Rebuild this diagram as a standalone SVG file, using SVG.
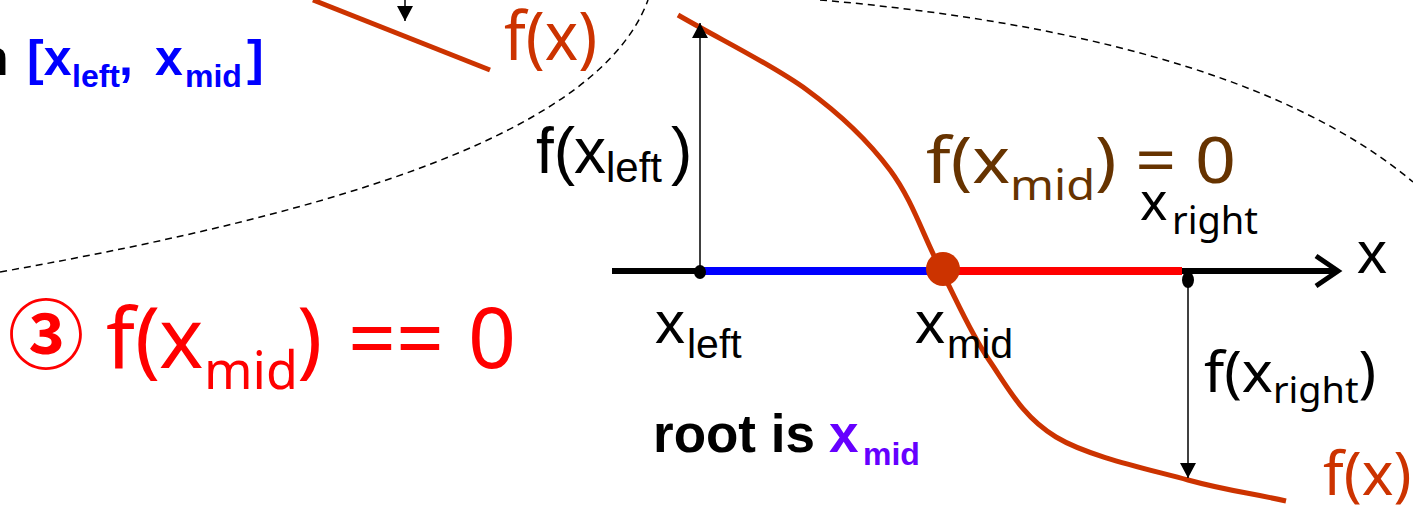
<svg xmlns="http://www.w3.org/2000/svg" width="1413" height="507" viewBox="0 0 1413 507">
<defs>
<marker id="ah" markerUnits="userSpaceOnUse" markerWidth="16" markerHeight="16" viewBox="0 0 16 16" refX="15" refY="8" orient="auto"><path d="M0,0 L15,8 L0,16 Z" fill="#000"/></marker>
</defs>
<style>
.dash{fill:none;stroke:#000;stroke-width:1.5;stroke-dasharray:7 5}
.fx{fill:none;stroke:#CC3300;stroke-width:5}
.arr{fill:none;stroke:#000;stroke-width:1.5;marker-end:url(#ah)}
.ar{font-family:"Liberation Sans",Arial,sans-serif}
.ns{font-family:"Noto Sans","Open Sans",sans-serif}
</style>
<rect width="1413" height="507" fill="#fff"/>
<g id="dashed-regions">
<path class="dash" d="M0,272 C350,210 600,130 648,0"/>
<path class="dash" d="M820,0 C1050,20 1280,70 1413,182"/>
</g>
<g id="curves">
<path class="fx" d="M313,0 L490,70"/>
<path class="fx" d="M678,15 C721,40 771.7,64.2 807,90 C842.3,115.8 867.8,140.3 890,170 C912.2,199.7 923.5,236.3 940,268 C956.5,299.7 969.7,331.8 989,360 C1008.3,388.2 1022.8,417 1056,437 C1089.2,457 1150,469.5 1188,480 C1226,490.5 1252,493.3 1286,501"/>
</g>
<g id="axis">
<line x1="612" y1="271" x2="1334" y2="271" stroke="#000" stroke-width="6"/>
<polyline points="1316,256 1338,271 1316,286" fill="none" stroke="#000" stroke-width="5"/>
<line x1="704" y1="271" x2="930" y2="271" stroke="#0000FF" stroke-width="8"/>
<line x1="956" y1="271" x2="1182" y2="271" stroke="#FF0000" stroke-width="8"/>
<ellipse cx="700" cy="272" rx="6" ry="7" fill="#000"/>
<ellipse cx="1188" cy="280" rx="6" ry="8" fill="#000"/>
<circle cx="943" cy="269" r="17" fill="#CC3300"/>
</g>
<g id="connectors">
<line class="arr" x1="405" y1="0" x2="405" y2="21"/>
<line class="arr" x1="700" y1="272" x2="700" y2="23"/>
<line class="arr" x1="1188" y1="282" x2="1188" y2="478"/>
</g>
<g id="label-interval">
<text class="ar" font-weight="bold" font-size="50" y="75"><tspan x="-22" fill="#000">n </tspan><tspan x="27" fill="#0000FF">[x</tspan><tspan x="72" y="87" font-size="32" fill="#0000FF">left</tspan><tspan x="119" y="75" fill="#0000FF">, </tspan><tspan x="155" fill="#0000FF">x</tspan><tspan x="185" y="87" font-size="32" fill="#0000FF">mid</tspan><tspan x="247" y="75" fill="#0000FF">]</tspan></text>
</g>
<g id="label-fx-top">
<text class="ns" font-size="68" transform="translate(504,60) scale(0.93,1)" fill="#CC3300">f(x)</text>
</g>
<g id="label-fxleft">
<text class="ar" font-size="64" y="173" fill="#000"><tspan x="536">f(</tspan><tspan x="574">x</tspan><tspan x="606" y="182" font-size="42">left</tspan><tspan x="671" y="173">)</tspan></text>
</g>
<g id="label-fxmid-zero">
<text class="ns" font-size="64" transform="translate(926,183) scale(1.12,1)" fill="#663300">f(x<tspan dy="17" font-size="42">mid</tspan><tspan dy="-17">) = 0</tspan></text>
</g>
<g id="label-xright">
<text class="ns" font-size="52" y="220" fill="#000"><tspan x="1140">x</tspan><tspan x="1172" y="234" font-size="38">right</tspan></text>
</g>
<g id="label-axis-x">
<text class="ar" font-size="60" x="1357" y="273" fill="#000">x</text>
</g>
<g id="label-condition">
<text class="ns" font-size="84" y="368" fill="#FF0000"><tspan x="8" y="363" font-size="76" font-weight="bold" font-family="'Noto Sans CJK JP','Noto Sans',sans-serif">③ </tspan><tspan x="106" y="368">f(</tspan><tspan x="159">x</tspan><tspan x="204" y="389" font-size="52">mid</tspan><tspan x="297" y="368">) </tspan><tspan x="348">== </tspan><tspan x="468">0</tspan></text>
</g>
<g id="label-xleft">
<text class="ar" font-size="60" y="343" fill="#000"><tspan x="655">x</tspan><tspan x="687" y="358" font-size="41">left</tspan></text>
</g>
<g id="label-xmid">
<text class="ar" font-size="60" y="343" fill="#000"><tspan x="915">x</tspan><tspan x="947" y="358" font-size="41">mid</tspan></text>
</g>
<g id="label-fxright">
<text class="ns" font-size="56" transform="translate(1204,392) scale(1.05,1)" fill="#000">f(x<tspan dy="11" font-size="36">right</tspan><tspan dy="-11">)</tspan></text>
</g>
<g id="label-root">
<text class="ar" font-weight="bold" font-size="53" y="452"><tspan x="653" fill="#000">root is </tspan><tspan x="829" fill="#6600FF">x</tspan><tspan x="863" y="465" font-size="32" fill="#6600FF">mid</tspan></text>
</g>
<g id="label-fx-bottom">
<text class="ns" font-size="60" x="1323" y="495" fill="#CC3300">f(x)</text>
</g>
</svg>
